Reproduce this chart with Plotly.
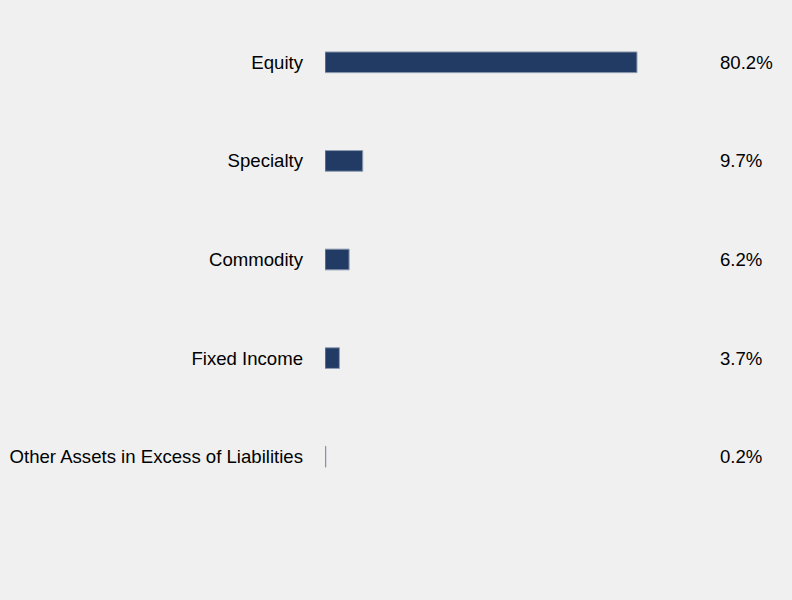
import plotly.graph_objects as go

categories = ["Equity", "Specialty", "Commodity", "Fixed Income",
              "Other Assets in Excess of Liabilities"]
values = [80.2, 9.7, 6.2, 3.7, 0.2]
value_labels = ["80.2%", "9.7%", "6.2%", "3.7%", "0.2%"]

bg = "#f0f0f0"
font = dict(family="Liberation Sans, Arial, sans-serif", size=18.6, color="#000000")

fig = go.Figure()
fig.add_trace(go.Bar(
    x=values,
    y=categories,
    orientation="h",
    width=0.21,
    marker=dict(color="#213b64", line=dict(color="#8e9bb0", width=1)),
    hoverinfo="skip",
))

# percentages in a column right of the plot
for cat, lab in zip(categories, value_labels):
    fig.add_annotation(
        x=1, xref="paper", y=cat, yref="y",
        text=lab, showarrow=False,
        xanchor="left", xshift=4,
        font=font,
    )

fig.update_layout(
    width=792, height=600,
    paper_bgcolor=bg, plot_bgcolor=bg,
    margin=dict(l=325, r=78, t=13, b=94),
    showlegend=False,
    font=font,
    bargap=0.79,
)
fig.update_xaxes(range=[0, 100], visible=False, fixedrange=True)
fig.update_yaxes(
    autorange="reversed", showgrid=False, zeroline=False, showline=False,
    ticks="", ticklabelstandoff=21, automargin=False, fixedrange=True,
)

# drop the page margin so the figure sits at the top-left corner
js = "document.body.style.margin='0';document.body.style.background='%s';" % bg
fig.write_html("out.html", config=dict(displayModeBar=False), post_script=js)
